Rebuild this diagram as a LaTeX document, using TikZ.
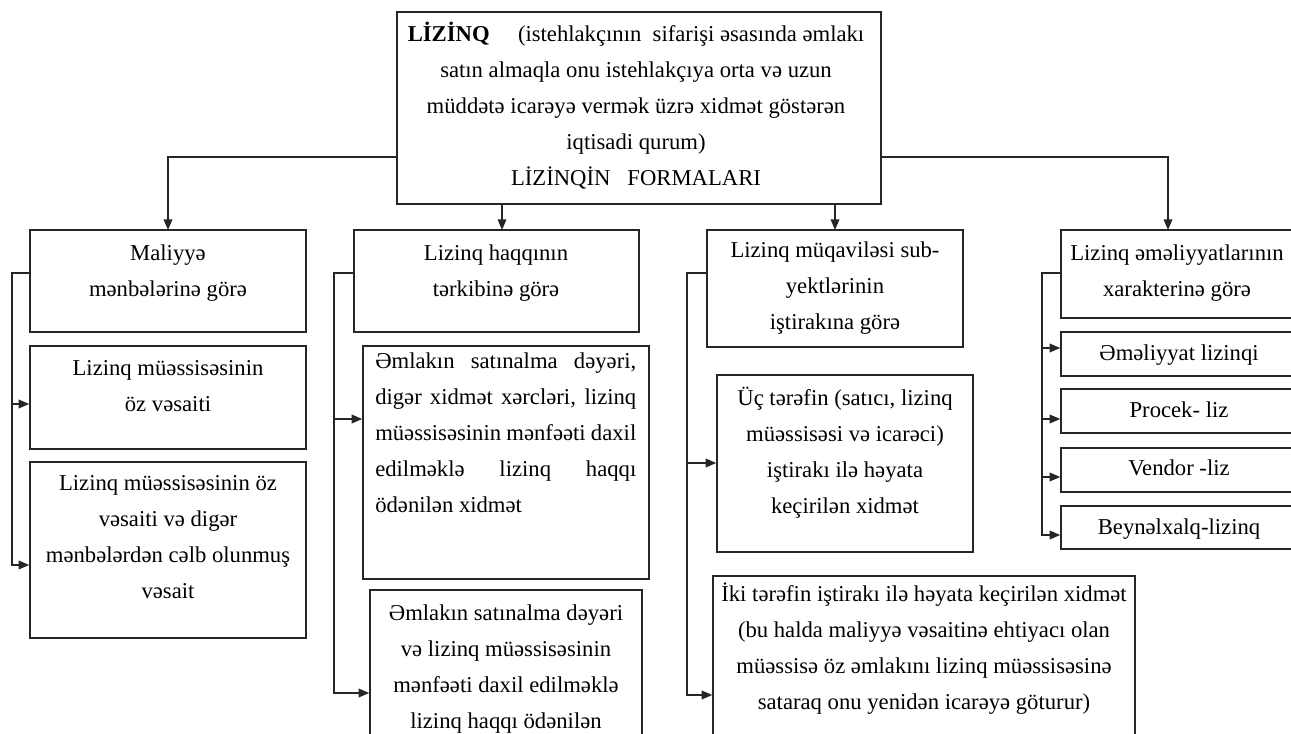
\documentclass[tikz,border=0pt]{standalone}
\usepackage{fontspec}
\setmainfont{Liberation Serif}
\usetikzlibrary{fit,arrows.meta,calc}
\tikzset{
  box/.style={draw=black!85, line width=1.1pt, inner sep=0pt, rectangle},
  txt/.style={inner sep=0pt, align=center, font=\fontsize{17}{27}\selectfont, text=black},
  conn/.style={draw=black!85, line width=1.1pt},
  arr/.style={conn, -{Triangle[length=8pt,width=6.5pt]}}
}
\begin{document}
\begin{tikzpicture}[x=0.75pt,y=-0.75pt]
\useasboundingbox (0,0) rectangle (1291,734);
\clip (0,0) rectangle (1291,734);
\fill[white] (0,0) rectangle (1291,734);
% top box
\node[box, fit={(397,12) (881,204)}] (top) {};
\node[txt, anchor=north] (topt) at (636,16) {\strut\textbf{LİZİNQ}\quad\ (istehlakçının\ \ sifarişi əsasında əmlakı\\satın almaqla onu istehlakçıya orta və uzun\\müddətə icarəyə vermək üzrə xidmət göstərən\\iqtisadi qurum)\\LİZİNQİN\ \ \ FORMALARI};
% column 1
\node[box, fit={(30,230) (306,332)}] (a1) {};
\node[txt, anchor=north] (a1t) at (168,235) {\strut Maliyyə\\mənbələrinə görə};
\node[box, fit={(30,346) (306,449)}] (a2) {};
\node[txt, anchor=north] (a2t) at (168,350) {\strut Lizinq müəssisəsinin\\öz vəsaiti};
\node[box, fit={(30,462) (306,638)}] (a3) {};
\node[txt, anchor=north] (a3t) at (168,465) {\strut Lizinq müəssisəsinin öz\\vəsaiti və digər\\mənbələrdən cəlb olunmuş\\vəsait};
% column 2
\node[box, fit={(354,230) (639,332)}] (b1) {};
\node[txt, anchor=north] (b1t) at (496,235) {\strut Lizinq haqqının\\tərkibinə görə};
\node[box, fit={(363,346) (649,579)}] (b2) {};
\node[txt, anchor=north west, align=left] (b2t) at (375,343) {\strut\makebox[195.75pt][s]{Əmlakın satınalma dəyəri,}\\\makebox[195.75pt][s]{digər xidmət xərcləri, lizinq}\\\makebox[195.75pt][s]{müəssisəsinin mənfəəti daxil}\\\makebox[195.75pt][s]{edilməklə lizinq haqqı}\\ödənilən xidmət};
\node[box, fit={(370,590) (642,760)}] (b3) {};
\node[txt, anchor=north] (b3t) at (506,595) {\strut Əmlakın satınalma dəyəri\\və lizinq müəssisəsinin\\mənfəəti daxil edilməklə\\lizinq haqqı ödənilən};
% column 3
\node[box, fit={(707,230) (963,347)}] (c1) {};
\node[txt, anchor=north] (c1t) at (835,232) {\strut Lizinq müqaviləsi sub-\\yektlərinin\\iştirakına görə};
\node[box, fit={(717,375) (973,552)}] (c2) {};
\node[txt, anchor=north] (c2t) at (845,380) {\strut Üç tərəfin (satıcı, lizinq\\müəssisəsi və icarəci)\\iştirakı ilə həyata\\keçirilən xidmət};
\node[box, fit={(713,576) (1135,760)}] (c3) {};
\node[txt, anchor=north] (c3t) at (924,576) {\strut İki tərəfin iştirakı ilə həyata keçirilən xidmət\\(bu halda maliyyə vəsaitinə ehtiyacı olan\\müəssisə öz əmlakını lizinq müəssisəsinə\\sataraq onu yenidən icarəyə göturur)};
% column 4
\node[box, fit={(1061,230) (1293,318)}] (d1) {};
\node[txt, anchor=north] (d1t) at (1177,235) {\strut Lizinq əməliyyatlarının\\xarakterinə görə};
\node[box, fit={(1061,332) (1293,376)}] (d2) {};
\node[txt, anchor=base] (d2t) at (1179,360) {Əməliyyat lizinqi};
\node[box, fit={(1061,389) (1293,433)}] (d3) {};
\node[txt, anchor=base] (d3t) at (1179,417) {Procek- liz};
\node[box, fit={(1061,448) (1293,492)}] (d4) {};
\node[txt, anchor=base] (d4t) at (1179,475) {Vendor -liz};
\node[box, fit={(1061,506) (1293,549)}] (d5) {};
\node[txt, anchor=base] (d5t) at (1179,534) {Beynəlxalq-lizinq};
% connectors from top
\coordinate (hy) at (0,157);
\coordinate (ta) at (168,230);
\coordinate (tb) at (502,230);
\coordinate (tc) at (835,230);
\coordinate (td) at (1168,230);
\draw[arr] (top.west |- hy) -| (ta);
\draw[arr] (top.east |- hy) -| (td);
\draw[arr] (top.south -| tb) -- (tb);
\draw[arr] (top.south -| tc) -- (tc);
% spines
\coordinate (sy) at (0,273);
\coordinate (s1) at (12,273);
\coordinate (s2) at (334,273);
\coordinate (s3) at (687,273);
\coordinate (s4) at (1042,273);
% column 1
\draw[arr] (a1.west |- sy) -- (s1) |- (a3.west |- 0,565);
\draw[arr] (s1 |- 0,404) -- (a2.west |- 0,404);
% column 2
\draw[arr] (b1.west |- sy) -- (s2) |- (b3.west |- 0,693);
\draw[arr] (s2 |- 0,419) -- (b2.west |- 0,419);
% column 3
\draw[arr] (c1.west |- sy) -- (s3) |- (c3.west |- 0,695);
\draw[arr] (s3 |- 0,463) -- (c2.west |- 0,463);
% column 4
\draw[arr] (d1.west |- sy) -- (s4) |- (d5.west |- 0,535);
\draw[arr] (s4 |- 0,348) -- (d2.west |- 0,348);
\draw[arr] (s4 |- 0,419) -- (d3.west |- 0,419);
\draw[arr] (s4 |- 0,477) -- (d4.west |- 0,477);
\end{tikzpicture}
\end{document}
